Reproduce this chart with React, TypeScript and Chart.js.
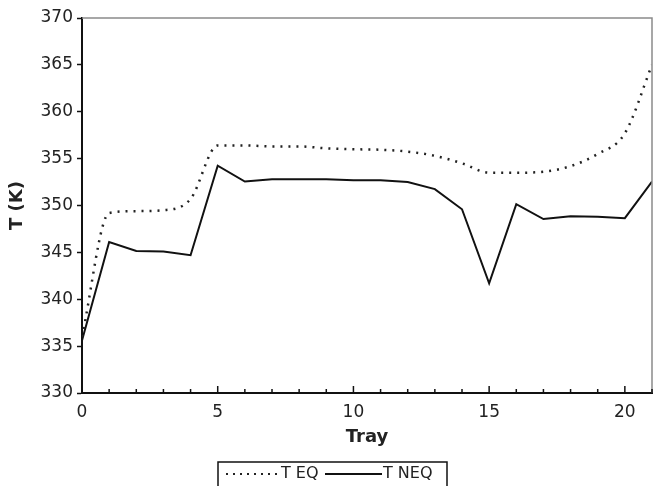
import React, { useEffect, useRef } from "react";
import { Chart, registerables } from "chart.js";

Chart.register(...registerables);

const trays = [0, 1, 2, 3, 4, 5, 6, 7, 8, 9, 10, 11, 12, 13, 14, 15, 16, 17, 18, 19, 20, 21];
const tEq = [336.0, 349.2, 349.4, 349.5, 350.7, 356.4, 356.4, 356.3, 356.3, 356.1, 356.0, 355.95, 355.75, 355.3, 354.5, 353.5, 353.5, 353.6, 354.2, 355.5, 357.7, 365.0];
const tNeq = [335.6, 346.1, 345.15, 345.1, 344.7, 354.25, 352.55, 352.8, 352.8, 352.8, 352.7, 352.7, 352.5, 351.75, 349.6, 341.7, 350.15, 348.55, 348.85, 348.8, 348.65, 352.55];
const xTickLabels = [0, 5, 10, 15, 20];
const seriesNames = ["T EQ", "T NEQ"];

const FONT = "'DejaVu Sans', Verdana, sans-serif";
const TEXT = "#222";

const framePlugin = {
  id: "frame",
  afterDraw(chart: any) {
    const ctx = chart.ctx;
    const { left, right, top, bottom } = chart.chartArea;
    const xs = chart.scales.x;
    ctx.save();
    ctx.strokeStyle = "#8a8a8a";
    ctx.lineWidth = 1.5;
    ctx.beginPath();
    ctx.moveTo(left, top);
    ctx.lineTo(right, top);
    ctx.lineTo(right, bottom);
    ctx.stroke();
    ctx.strokeStyle = "#111";
    ctx.lineWidth = 1.5;
    for (const v of trays) {
      const px = xs.getPixelForValue(v);
      const len = v % 5 === 0 ? 7 : 4;
      ctx.beginPath();
      ctx.moveTo(px, bottom);
      ctx.lineTo(px, bottom - len);
      ctx.stroke();
    }
    const bx = 218, by = 462, bw = 229;
    ctx.strokeStyle = "#111";
    ctx.lineWidth = 1.5;
    ctx.beginPath();
    ctx.moveTo(bx, 492);
    ctx.lineTo(bx, by);
    ctx.lineTo(bx + bw, by);
    ctx.lineTo(bx + bw, 492);
    ctx.stroke();
    const ly = 474;
    ctx.font = `16px ${FONT}`;
    ctx.fillStyle = TEXT;
    ctx.textBaseline = "middle";
    ctx.textAlign = "left";
    ctx.setLineDash([2, 5]);
    ctx.lineWidth = 2;
    ctx.strokeStyle = "#222";
    ctx.beginPath();
    ctx.moveTo(226, ly);
    ctx.lineTo(280, ly);
    ctx.stroke();
    ctx.fillText(seriesNames[0], 281, ly);
    ctx.setLineDash([]);
    ctx.strokeStyle = "#111";
    ctx.beginPath();
    ctx.moveTo(325, ly);
    ctx.lineTo(382, ly);
    ctx.stroke();
    ctx.fillText(seriesNames[1], 383, ly);
    ctx.restore();
  },
};

export default function App() {
  const ref = useRef<HTMLCanvasElement>(null);
  useEffect(() => {
    if (!ref.current) return;
    const chart = new Chart(ref.current, {
      type: "line",
      data: {
        datasets: [
          {
            label: seriesNames[0],
            data: trays.map((t, i) => ({ x: t, y: tEq[i] })),
            borderColor: "#222",
            borderWidth: 2.5,
            borderDash: [2, 6],
            pointRadius: 0,
            cubicInterpolationMode: "monotone",
            fill: false,
          },
          {
            label: seriesNames[1],
            data: trays.map((t, i) => ({ x: t, y: tNeq[i] })),
            borderColor: "#111",
            borderWidth: 2,
            pointRadius: 0,
            tension: 0,
            fill: false,
          },
        ],
      },
      options: {
        animation: false,
        responsive: false,
        devicePixelRatio: 1,
        layout: { padding: { top: 18, right: 2, bottom: 0, left: 0 } },
        plugins: { legend: { display: false }, tooltip: { enabled: false } },
        scales: {
          x: {
            type: "linear",
            min: 0,
            max: 21,
            afterBuildTicks: (s: any) => {
              s.ticks = xTickLabels.map((v) => ({ value: v }));
            },
            afterFit: (s: any) => {
              s.height = 93;
            },
            grid: { display: true, drawOnChartArea: false, drawTicks: false },
            border: { display: true, color: "#111", width: 2 },
            ticks: { font: { family: FONT, size: 17 }, color: TEXT, padding: 9, maxRotation: 0 },
            title: {
              display: true,
              text: "Tray",
              font: { family: FONT, size: 18, weight: "bold" },
              color: TEXT,
              padding: { top: 0, bottom: 38 },
            },
          },
          y: {
            min: 330,
            max: 370,
            afterFit: (s: any) => {
              s.width = 82;
            },
            ticks: { stepSize: 5, font: { family: FONT, size: 17 }, color: TEXT, padding: 4 },
            grid: { drawOnChartArea: false, drawTicks: true, tickLength: 5, color: "#111", tickWidth: 1.5 },
            border: { display: true, color: "#111", width: 2 },
            title: {
              display: true,
              text: "T (K)",
              font: { family: FONT, size: 18, weight: "bold" },
              color: TEXT,
              padding: { top: 7, bottom: 0 },
            },
          },
        },
      },
      plugins: [framePlugin],
    });
    return () => chart.destroy();
  }, []);
  return (
    <div style={{ position: "absolute", left: 0, top: 0, width: 654, height: 486, background: "#fff" }}>
      <canvas ref={ref} width={654} height={486} />
    </div>
  );
}
